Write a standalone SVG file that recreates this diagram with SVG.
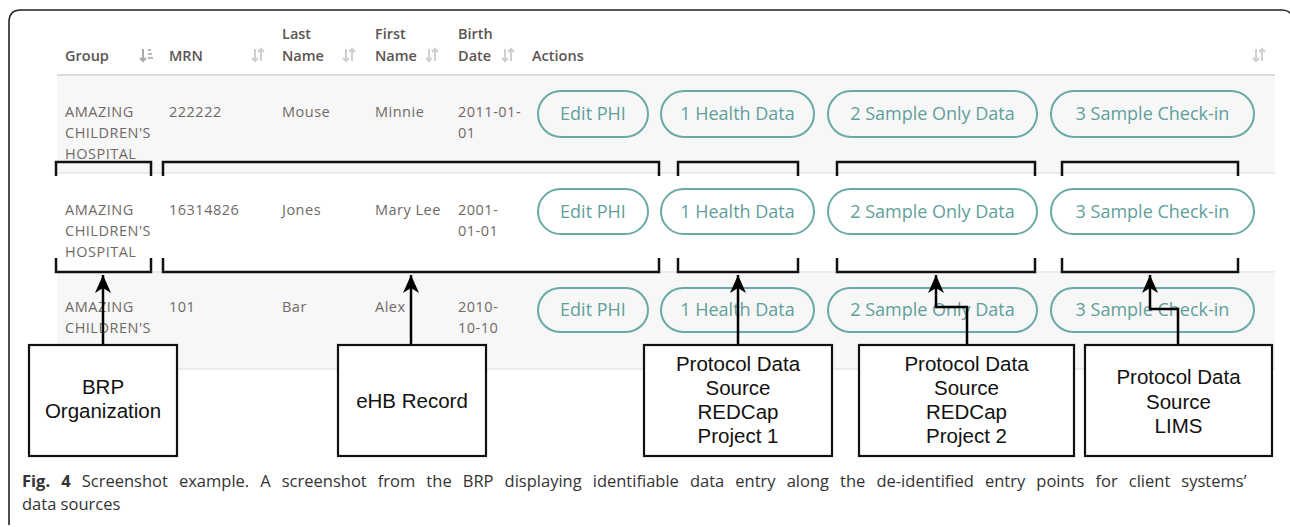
<svg xmlns="http://www.w3.org/2000/svg" width="1290" height="527" viewBox="0 0 1290 527">
<defs>
<style>
.frame{fill:none;stroke:#222;stroke-width:1.6}
.hd{font-family:"Open Sans","Liberation Sans",sans-serif;font-size:14.5px;font-weight:600;fill:#5a5552}
.td{font-family:"Open Sans","Liberation Sans",sans-serif;font-size:14.5px;letter-spacing:0.5px;fill:#6f6a66}
.btn rect{fill:none;stroke:#6aa9a5;stroke-width:2}
.btn text{font-family:"Open Sans","Liberation Sans",sans-serif;font-size:18px;fill:#5f9f9b;text-anchor:middle}
.ico{fill:none;stroke:#cfcfcf;stroke-width:2}
.brk{fill:none;stroke:#111;stroke-width:2.5}
.con{fill:none;stroke:#000;stroke-width:2.5}
.box rect{fill:#fff;stroke:#111;stroke-width:2.2}
.box text{font-family:"Liberation Sans",Arial,sans-serif;font-size:20.5px;fill:#111;text-anchor:middle}
.cap{font-family:"Open Sans","Liberation Sans",sans-serif;font-size:16.5px;fill:#333}
</style>
<marker id="ah" markerUnits="userSpaceOnUse" markerWidth="18" markerHeight="22" refX="18" refY="8" orient="auto">
<path d="M18 8 L0 0 L5 8 L0 16 Z" fill="#000"/>
</marker>
</defs>
<rect width="1290" height="527" fill="#fff"/>
<path class="frame" d="M9 525 V22 Q9 10 21 10 H1282 Q1288 10 1291 14"/>

<g id="table">
<rect x="57" y="76" width="1218" height="97" fill="#f7f7f7"/>
<rect x="57" y="273" width="1218" height="96" fill="#f7f7f7"/>
<line x1="57" y1="75" x2="1275" y2="75" stroke="#ddd" stroke-width="2"/>
<line x1="57" y1="173" x2="1275" y2="173" stroke="#e6e6e6" stroke-width="1.5"/>
<line x1="57" y1="272" x2="1275" y2="272" stroke="#e6e6e6" stroke-width="1.5"/>
<line x1="57" y1="369" x2="1275" y2="369" stroke="#e6e6e6" stroke-width="1.5"/>
<text class="hd" x="65" y="61">Group</text>
<text class="hd" x="169" y="61">MRN</text>
<text class="hd" x="282" y="39">Last</text>
<text class="hd" x="282" y="61">Name</text>
<text class="hd" x="375" y="39">First</text>
<text class="hd" x="375" y="61">Name</text>
<text class="hd" x="458" y="39">Birth</text>
<text class="hd" x="458" y="61">Date</text>
<text class="hd" x="532" y="61">Actions</text>
<g id="sort-icons">
<path d="M143 49 V61 M140 58 L143 61 L146 58" fill="none" stroke="#aaa" stroke-width="2"/>
<path d="M148 50 H151 M148 54 H152 M148 58 H153" fill="none" stroke="#bbb" stroke-width="2"/>
<path class="ico" d="M255 49 V61 M252 58 L255 61 L258 58 M261 61 V49 M258 52 L261 49 L264 52"/>
<path class="ico" d="M346 49 V61 M343 58 L346 61 L349 58 M352 61 V49 M349 52 L352 49 L355 52"/>
<path class="ico" d="M429 49 V61 M426 58 L429 61 L432 58 M435 61 V49 M432 52 L435 49 L438 52"/>
<path class="ico" d="M505 49 V61 M502 58 L505 61 L508 58 M511 61 V49 M508 52 L511 49 L514 52"/>
<path class="ico" d="M1256 49 V61 M1253 58 L1256 61 L1259 58 M1262 61 V49 M1259 52 L1262 49 L1265 52"/>
</g>
<g id="row1">
<text class="td" x="65" y="117">AMAZING</text>
<text class="td" x="65" y="138">CHILDREN'S</text>
<text class="td" x="65" y="159">HOSPITAL</text>
<text class="td" x="169" y="117">222222</text>
<text class="td" x="282" y="117">Mouse</text>
<text class="td" x="375" y="117">Minnie</text>
<text class="td" x="458" y="117">2011-01-</text>
<text class="td" x="458" y="138">01</text>
</g>
<g id="row2">
<text class="td" x="65" y="215">AMAZING</text>
<text class="td" x="65" y="236">CHILDREN'S</text>
<text class="td" x="65" y="257">HOSPITAL</text>
<text class="td" x="169" y="215">16314826</text>
<text class="td" x="282" y="215">Jones</text>
<text class="td" x="375" y="215">Mary Lee</text>
<text class="td" x="458" y="215">2001-</text>
<text class="td" x="458" y="236">01-01</text>
</g>
<g id="row3">
<text class="td" x="65" y="312">AMAZING</text>
<text class="td" x="65" y="333">CHILDREN'S</text>
<text class="td" x="169" y="312">101</text>
<text class="td" x="282" y="312">Bar</text>
<text class="td" x="375" y="312">Alex</text>
<text class="td" x="458" y="312">2010-</text>
<text class="td" x="458" y="333">10-10</text>
</g>
<g id="buttons" class="btn">
<rect x="538" y="91" width="110" height="46" rx="23"/><text x="593" y="120">Edit PHI</text>
<rect x="661" y="91" width="153" height="46" rx="23"/><text x="737.5" y="120">1 Health Data</text>
<rect x="828" y="91" width="209" height="46" rx="23"/><text x="932.5" y="120">2 Sample Only Data</text>
<rect x="1051" y="91" width="203" height="46" rx="23"/><text x="1152.5" y="120">3 Sample Check-in</text>
<rect x="538" y="189" width="110" height="45" rx="22.5"/><text x="593" y="217.5">Edit PHI</text>
<rect x="661" y="189" width="153" height="45" rx="22.5"/><text x="737.5" y="217.5">1 Health Data</text>
<rect x="828" y="189" width="209" height="45" rx="22.5"/><text x="932.5" y="217.5">2 Sample Only Data</text>
<rect x="1051" y="189" width="203" height="45" rx="22.5"/><text x="1152.5" y="217.5">3 Sample Check-in</text>
<rect x="538" y="288" width="110" height="44" rx="22"/><text x="593" y="316">Edit PHI</text>
<rect x="661" y="288" width="153" height="44" rx="22"/><text x="737.5" y="316">1 Health Data</text>
<rect x="828" y="288" width="209" height="44" rx="22"/><text x="932.5" y="316">2 Sample Only Data</text>
<rect x="1051" y="288" width="203" height="44" rx="22"/><text x="1152.5" y="316">3 Sample Check-in</text>
</g>
</g>

<g id="brackets">
<path class="brk" d="M56 176 V162 H151 V176 M56 258 V272 H151 V258"/>
<path class="brk" d="M163 176 V162 H659 V176 M163 258 V272 H659 V258"/>
<path class="brk" d="M678 176 V162 H798 V176 M678 258 V272 H798 V258"/>
<path class="brk" d="M837 176 V162 H1035 V176 M837 258 V272 H1035 V258"/>
<path class="brk" d="M1062 176 V162 H1238 V176 M1062 258 V272 H1238 V258"/>
</g>

<g id="connectors">
<path class="con" marker-end="url(#ah)" d="M103 345 V275"/>
<path class="con" marker-end="url(#ah)" d="M411 345 V275"/>
<path class="con" marker-end="url(#ah)" d="M738 345 V275"/>
<path class="con" marker-end="url(#ah)" d="M967 345 V307 H936 V275"/>
<path class="con" marker-end="url(#ah)" d="M1178 345 V309 H1150 V275"/>
</g>

<g id="brp" class="box"><rect x="29" y="345" width="148" height="111"/><text x="103" y="394">BRP</text><text x="103" y="418">Organization</text></g>
<g id="ehb" class="box"><rect x="338" y="345" width="148" height="111"/><text x="412" y="408">eHB Record</text></g>
<g id="pds1" class="box"><rect x="644" y="345" width="188" height="111"/><text x="738" y="371">Protocol Data</text><text x="738" y="395">Source</text><text x="738" y="419">REDCap</text><text x="738" y="443">Project 1</text></g>
<g id="pds2" class="box"><rect x="859" y="345" width="215" height="111"/><text x="966.5" y="371">Protocol Data</text><text x="966.5" y="395">Source</text><text x="966.5" y="419">REDCap</text><text x="966.5" y="443">Project 2</text></g>
<g id="lims" class="box"><rect x="1085" y="345" width="187" height="111"/><text x="1178.5" y="384">Protocol Data</text><text x="1178.5" y="409">Source</text><text x="1178.5" y="433">LIMS</text></g>

<g id="caption">
<text class="cap" x="22" y="487" word-spacing="6.8"><tspan font-weight="bold">Fig. 4</tspan> Screenshot example. A screenshot from the BRP displaying identifiable data entry along the de-identified entry points for client systems’</text>
<text class="cap" x="22" y="510">data sources</text>
</g>
</svg>
